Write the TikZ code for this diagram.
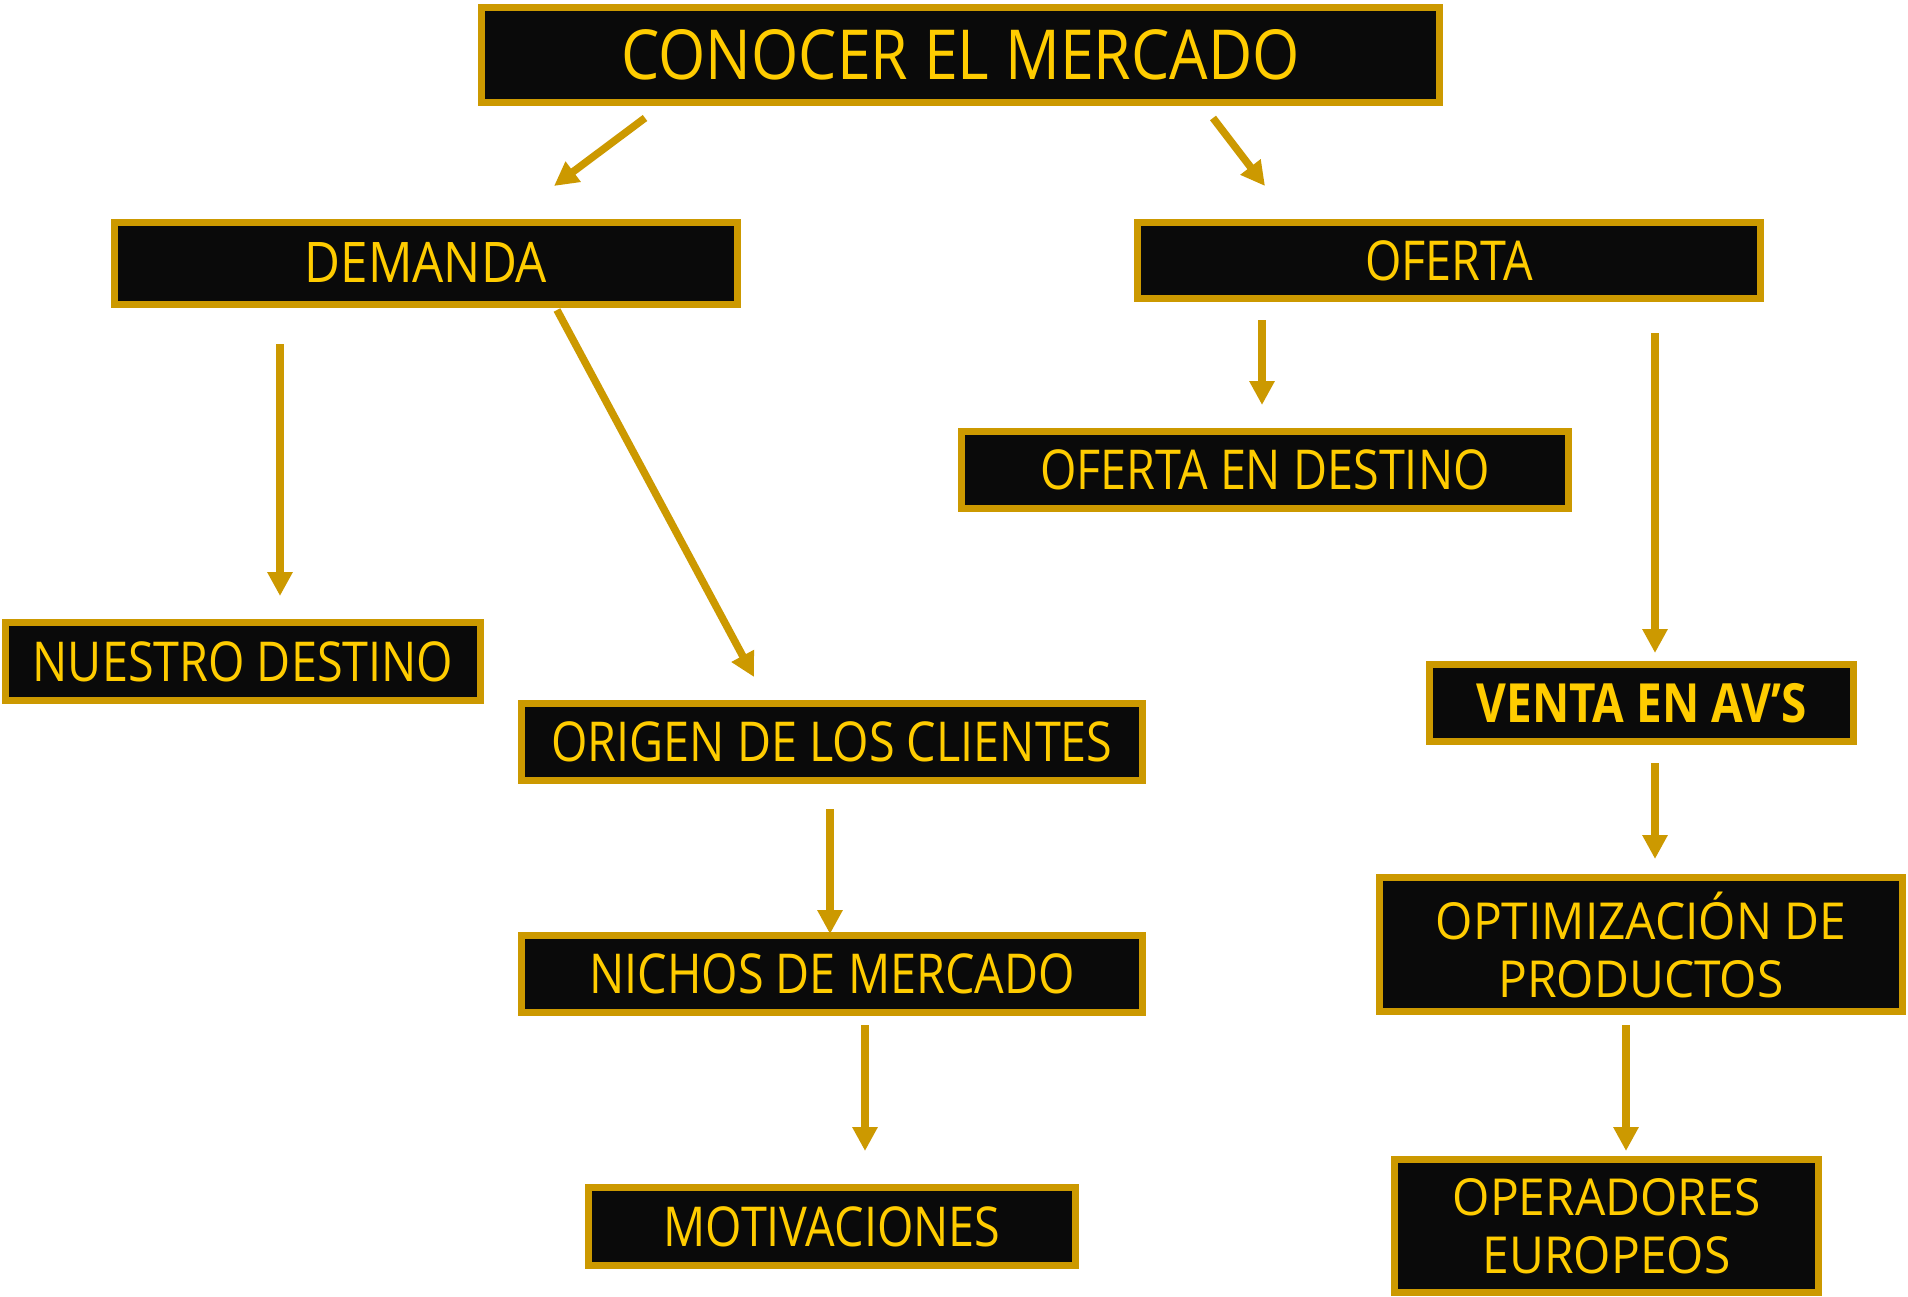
\documentclass[tikz,border=0pt]{standalone}
\usepackage{fontspec}
\setmainfont{Open Sans}[FakeStretch=0.85]
\newfontfamily\widefont{Open Sans}[FakeStretch=0.94]
\newfontfamily\topfont{Open Sans}[FakeStretch=0.88]
\usetikzlibrary{arrows.meta}
\definecolor{gold}{HTML}{CC9900}
\definecolor{txtyellow}{HTML}{FFCC00}
\definecolor{boxfill}{HTML}{0A0A0A}
\tikzset{
  boxbase/.style={draw=gold, line width=7pt, fill=boxfill, text=txtyellow, inner sep=0pt, align=center},
  box/.style={boxbase, font=\fontsize{55}{66}\selectfont, text height=39pt, text depth=0pt},
  twoline/.style={boxbase, font=\widefont\fontsize{51}{58}\selectfont},
  conn/.style={draw=gold, line width=7.5pt, -{Triangle[width=24pt,length=24pt]}}
}
\begin{document}
\begin{tikzpicture}[x=1pt,y=-1pt]
\useasboundingbox[fill=white] (0,0) rectangle (1908,1297);
% nodes
\node[box, minimum width=958, minimum height=95, font=\topfont\fontsize{69}{80}\selectfont, text height=49pt] (conocer) at (960.5,55) {CONOCER EL MERCADO};
\node[box, minimum width=623, minimum height=82, font=\topfont\fontsize{56}{66}\selectfont] (demanda) at (426,263.5) {DEMANDA};
\node[box, minimum width=623, minimum height=76] (oferta) at (1449,260.5) {OFERTA};
\node[box, minimum width=607, minimum height=77] (ofdest) at (1265,470) {OFERTA EN DESTINO};
\node[box, minimum width=475, minimum height=78] (nuestro) at (243,661.5) {NUESTRO DESTINO};
\node[box, minimum width=621, minimum height=77] (origen) at (832,742) {ORIGEN DE LOS CLIENTES};
\node[box, minimum width=424, minimum height=77, font=\fontsize{54}{66}\selectfont\bfseries] (venta) at (1641.5,703) {VENTA EN AV’S};
\node[box, minimum width=621, minimum height=77] (nichos) at (832,974) {NICHOS DE MERCADO};
\node[twoline, minimum width=523, minimum height=134] (optim) at (1641,944.5) {OPTIMIZACIÓN DE\\PRODUCTOS};
\node[box, minimum width=487, minimum height=78] (motiv) at (832,1226.5) {MOTIVACIONES};
\node[twoline, minimum width=424, minimum height=133] (operadores) at (1606.5,1226) {OPERADORES\\EUROPEOS};
% connector end points
\coordinate (a1s) at (645,118);  \coordinate (a1e) at (554,186);
\coordinate (a2s) at (1213,118); \coordinate (a2e) at (1265,186);
\coordinate (a3s) at (280,344);  \coordinate (a3e) at (280,596);
\coordinate (a4s) at (557,310);  \coordinate (a4e) at (754,677);
\coordinate (a5s) at (1262,320); \coordinate (a5e) at (1262,405);
\coordinate (a6s) at (1655,333); \coordinate (a6e) at (1655,653);
\coordinate (a7s) at (830,809);  \coordinate (a7e) at (830,934);
\coordinate (a8s) at (1655,763); \coordinate (a8e) at (1655,859);
\coordinate (a9s) at (865,1025); \coordinate (a9e) at (865,1151);
\coordinate (a10s) at (1626,1025); \coordinate (a10e) at (1626,1151);
% connectors
\draw[conn] (a1s) -- (a1e);
\draw[conn] (a2s) -- (a2e);
\draw[conn] (a3s) -- (a3e);
\draw[conn] (a4s) -- (a4e);
\draw[conn] (a5s) -- (a5e);
\draw[conn] (a6s) -- (a6e);
\draw[conn] (a7s) -- (a7e);
\draw[conn] (a8s) -- (a8e);
\draw[conn] (a9s) -- (a9e);
\draw[conn] (a10s) -- (a10e);
\end{tikzpicture}
\end{document}
